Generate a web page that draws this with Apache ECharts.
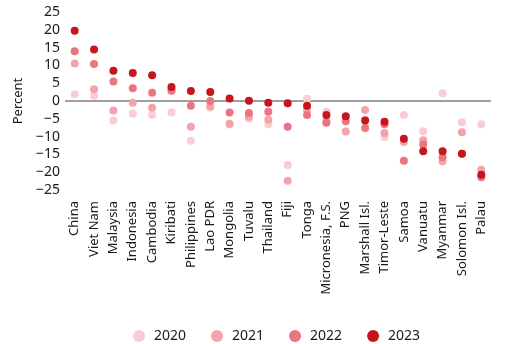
<!DOCTYPE html>
<html>
<head>
<meta charset="utf-8">
<script src="https://cdn.jsdelivr.net/npm/echarts@6/dist/echarts.min.js"></script>
<style>
  html, body { margin: 0; padding: 0; background: #fff; }
  #chart { width: 506px; height: 344px; }
</style>
</head>
<body>
<div id="chart"></div>
<script>
// Economies, ordered by 2023 value
const categories = ['China', 'Viet Nam', 'Malaysia', 'Indonesia', 'Cambodia', 'Kiribati',
  'Philippines', 'Lao PDR', 'Mongolia', 'Tuvalu', 'Thailand', 'Fiji', 'Tonga',
  'Micronesia, F.S.', 'PNG', 'Marshall Isl.', 'Timor-Leste', 'Samoa', 'Vanuatu',
  'Myanmar', 'Solomon Isl.', 'Palau'];

// Percent, one value per economy
const v2020 = [1.9, 1.5, -5.5, -3.6, -3.9, -3.2, -11.2, -1.9, -6.6, -4.9, -6.5, -18.0, 0.6,
  -3.0, -4.5, -5.3, -10.1, -3.9, -8.5, 2.2, -6.0, -6.5];
const v2021 = [10.5, 3.3, -2.7, -0.5, -1.9, 2.8, -7.2, -1.5, -6.4, -4.4, -5.3, -22.4, -2.5,
  -5.6, -8.6, -2.5, -9.0, -11.5, -11.0, -16.9, -8.8, -19.3];
const v2022 = [14.0, 10.4, 5.5, 3.6, 2.3, 3.0, -1.3, 0.0, -3.2, -3.4, -3.0, -7.2, -3.9,
  -6.1, -5.7, -7.6, -6.5, -16.8, -12.2, -15.8, -14.8, -21.4];
const v2023 = [19.7, 14.5, 8.5, 7.9, 7.2, 3.9, 2.8, 2.5, 0.7, 0.1, -0.5, -0.6, -1.3,
  -3.9, -4.3, -5.5, -5.8, -10.6, -14.1, -14.1, -14.8, -20.7];

const years = ['2020', '2021', '2022', '2023'];
const values = [v2020, v2021, v2022, v2023];
const colors = ['#f9cdd3', '#f4a3ab', '#ec7480', '#c4161c'];

const FONT = 'Noto Sans';
const TEXT = '#1a1a1a';

const series = years.map((y, i) => {
  const s = {
    name: y,
    type: 'scatter',
    data: values[i],
    symbol: 'circle',
    symbolSize: 8,
    itemStyle: { color: colors[i], opacity: 1 },
    z: 2 + i
  };
  if (i === 0) {
    s.markLine = {
      silent: true,
      symbol: 'none',
      label: { show: false },
      lineStyle: { color: '#7f7f7f', width: 1.6, type: 'solid' },
      data: [{ yAxis: 0 }],
      z: 1
    };
  }
  return s;
});

const chart = echarts.init(document.getElementById('chart'), null, { renderer: 'canvas' });
chart.setOption({
  animation: false,
  backgroundColor: '#fff',
  grid: { left: 65, right: 15, top: 12, bottom: 154, containLabel: false },
  xAxis: {
    type: 'category',
    data: categories,
    boundaryGap: true,
    axisLine: { show: false },
    axisTick: { show: false },
    axisLabel: {
      rotate: 90,
      margin: 11,
      interval: 0,
      color: TEXT,
      fontFamily: FONT,
      fontSize: 13
    }
  },
  yAxis: {
    type: 'value',
    min: -25,
    max: 25,
    interval: 5,
    name: 'Percent',
    nameLocation: 'middle',
    nameRotate: 90,
    nameGap: 39,
    nameTextStyle: { color: TEXT, fontFamily: FONT, fontSize: 13 },
    axisLine: { show: false },
    axisTick: { show: false },
    splitLine: { show: false },
    axisLabel: {
      margin: 5,
      color: TEXT,
      fontFamily: FONT,
      fontSize: 14,
      formatter: v => String(v).replace('-', '\u2212')
    }
  },
  legend: {
    left: 128,
    top: 324,
    icon: 'circle',
    itemWidth: 12,
    itemHeight: 12,
    itemGap: 25,
    data: years,
    textStyle: { color: TEXT, fontFamily: FONT, fontSize: 14, padding: [0, 0, 0, 4] }
  },
  series: series
});
</script>
</body>
</html>
